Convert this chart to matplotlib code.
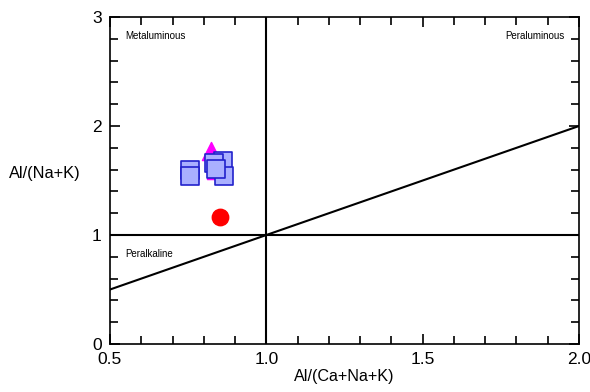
import matplotlib.pyplot as plt
from matplotlib.ticker import MultipleLocator

plt.rcParams['font.family'] = ['Liberation Sans', 'DejaVu Sans']

# A/CNK vs A/NK values
square_x = [0.756, 0.756, 0.860, 0.866, 0.833, 0.838]
square_y = [1.592, 1.537, 1.682, 1.546, 1.661, 1.607]
triangle_x = [0.822, 0.839]
triangle_y = [1.771, 1.596]
circle_x = [0.852]
circle_y = [1.162]

fig = plt.figure(figsize=(5.9, 3.92), dpi=100)
ax = fig.add_axes([0.1864, 0.1224, 0.7950, 0.8342])

# field boundaries
ax.plot([0.5, 2.0], [0.5, 2.0], color='black', lw=1.5, zorder=1)
ax.axhline(1, color='black', lw=1.5, zorder=1)
ax.axvline(1, color='black', lw=1.5, zorder=1)

ax.scatter(triangle_x, triangle_y, marker='^', s=170, color='#ff00ff', zorder=2)
for x, y in zip(square_x, square_y):
    ax.scatter(x, y, marker='s', s=150, facecolor='#aab0ff', edgecolor='#2222cc',
               linewidths=1.2, zorder=3)
ax.scatter(circle_x, circle_y, marker='o', s=140, color='#ff0000', zorder=3)

ax.text(0.548, 2.83, 'Metaluminous', fontsize=7, va='center')
ax.text(1.955, 2.83, 'Peraluminous', fontsize=7, va='center', ha='right')
ax.text(0.548, 0.83, 'Peralkaline', fontsize=7, va='center')

ax.set_xlim(0.5, 2.0)
ax.set_ylim(0, 3)
ax.xaxis.set_major_locator(MultipleLocator(0.5))
ax.xaxis.set_minor_locator(MultipleLocator(0.1))
ax.yaxis.set_major_locator(MultipleLocator(1))
ax.yaxis.set_minor_locator(MultipleLocator(0.2))
ax.xaxis.set_major_formatter(plt.FormatStrFormatter('%.1f'))
ax.tick_params(which='both', direction='in', top=True, right=True, width=1.2,
               labelsize=12.5)
ax.tick_params(which='major', length=7, pad=6)
ax.tick_params(which='minor', length=6)
for s in ax.spines.values():
    s.set_linewidth(1.2)

ax.set_xlabel('Al/(Ca+Na+K)', fontsize=11.6, labelpad=1)
ax.set_ylabel('Al/(Na+K)', fontsize=11.8, rotation=0, labelpad=34)

plt.savefig('out.png', dpi=100)
